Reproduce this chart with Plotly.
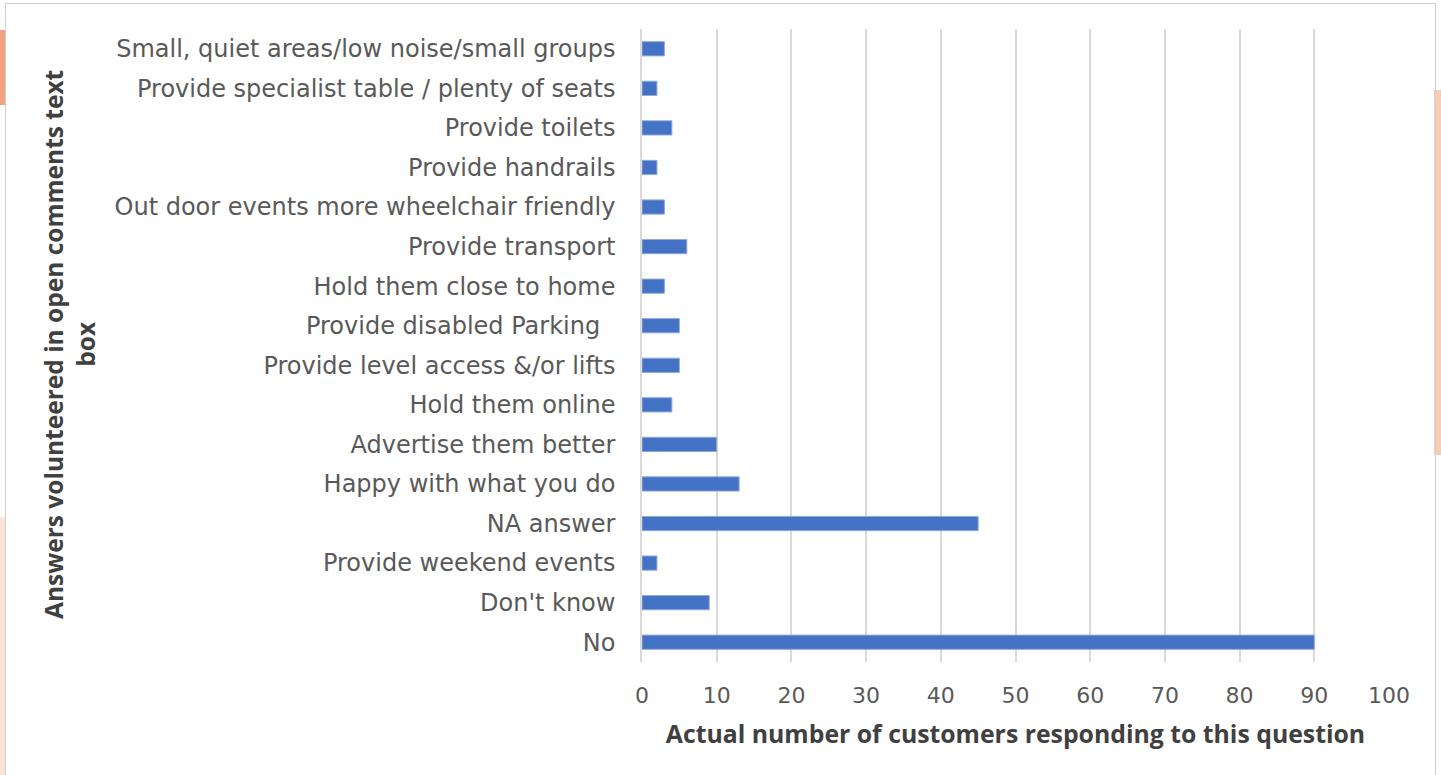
import plotly.graph_objects as go

# Survey answers (top to bottom) and number of customers giving each one
answers = [
    "Small, quiet areas/low noise/small groups",
    "Provide specialist table / plenty of seats",
    "Provide toilets",
    "Provide handrails",
    "Out door events more wheelchair friendly",
    "Provide transport",
    "Hold them close to home",
    "Provide disabled Parking\u00a0\u00a0",
    "Provide level access &/or lifts",
    "Hold them online",
    "Advertise them better",
    "Happy with what you do",
    "NA answer",
    "Provide weekend events",
    "Don't know",
    "No",
]
customers = [3, 2, 4, 2, 3, 6, 3, 5, 5, 4, 10, 13, 45, 2, 9, 90]
x_ticks = list(range(0, 101, 10))

W, H = 1441, 775
L, R, T, B = 642, 52, 29, 113
PW, PH = W - L - R, H - T - B


def px(x):
    return (x - L) / PW


def py(y):
    return (H - B - y) / PH


LABEL_FONT = "'DejaVu Sans', 'Noto Sans', sans-serif"
TITLE_FONT = "'Open Sans', 'Noto Sans', sans-serif"

fig = go.Figure(
    go.Bar(
        x=customers,
        y=answers,
        orientation="h",
        marker=dict(color="#4472C4", line=dict(color="#8FAADC", width=1)),
        width=0.36,
        hoverinfo="x+y",
    )
)

cat_font = dict(family=LABEL_FONT, size=24, color="#595959")
num_font = dict(family=LABEL_FONT, size=22, color="#595959")

fig.update_layout(
    width=W,
    height=H,
    margin=dict(l=L, r=R, t=T, b=B),
    paper_bgcolor="white",
    plot_bgcolor="white",
    showlegend=False,
    xaxis=dict(
        range=[0, 100],
        tickvals=x_ticks,
        showgrid=True,
        gridcolor="#D9D9D9",
        gridwidth=1.5,
        zeroline=False,
        showline=False,
        tickfont=num_font,
        ticklabelstandoff=18,
        title=dict(
            text="<b>Actual number of customers responding to this question</b>",
            font=dict(family=TITLE_FONT, size=24.8, color="#404040"),
            standoff=18,
        ),
    ),
    yaxis=dict(
        autorange="reversed",
        showgrid=False,
        showline=True,
        linecolor="#D9D9D9",
        linewidth=1.5,
        tickfont=cat_font,
        ticklabelstandoff=20,
        ticks="",
    ),
    annotations=[
        dict(
            text="<b>Answers volunteered in open comments text<br>box</b>",
            textangle=-90,
            x=px(69),
            y=py(345),
            xref="paper",
            yref="paper",
            xanchor="center",
            yanchor="middle",
            showarrow=False,
            align="center",
            font=dict(family=TITLE_FONT, size=24.5, color="#404040"),
        )
    ],
    shapes=[
        # page decorations peeking behind the chart card
        dict(type="rect", xref="paper", yref="paper", x0=px(-5), x1=px(6),
             y0=py(105), y1=py(30), fillcolor="#F4A07F", line=dict(width=0), layer="below"),
        dict(type="rect", xref="paper", yref="paper", x0=px(-5), x1=px(6),
             y0=py(780), y1=py(517), fillcolor="#FBE5DA", line=dict(width=0), layer="below"),
        dict(type="rect", xref="paper", yref="paper", x0=px(1434), x1=px(1446),
             y0=py(455), y1=py(90), fillcolor="#F8CBB5", line=dict(width=0), layer="below"),
        # chart card border
        dict(type="rect", xref="paper", yref="paper", x0=px(5.5), x1=px(1435.5),
             y0=py(790), y1=py(3.5), fillcolor="rgba(0,0,0,0)",
             line=dict(color="#D0D0D0", width=1), layer="below"),
    ],
)

fig.write_html("out.html")
